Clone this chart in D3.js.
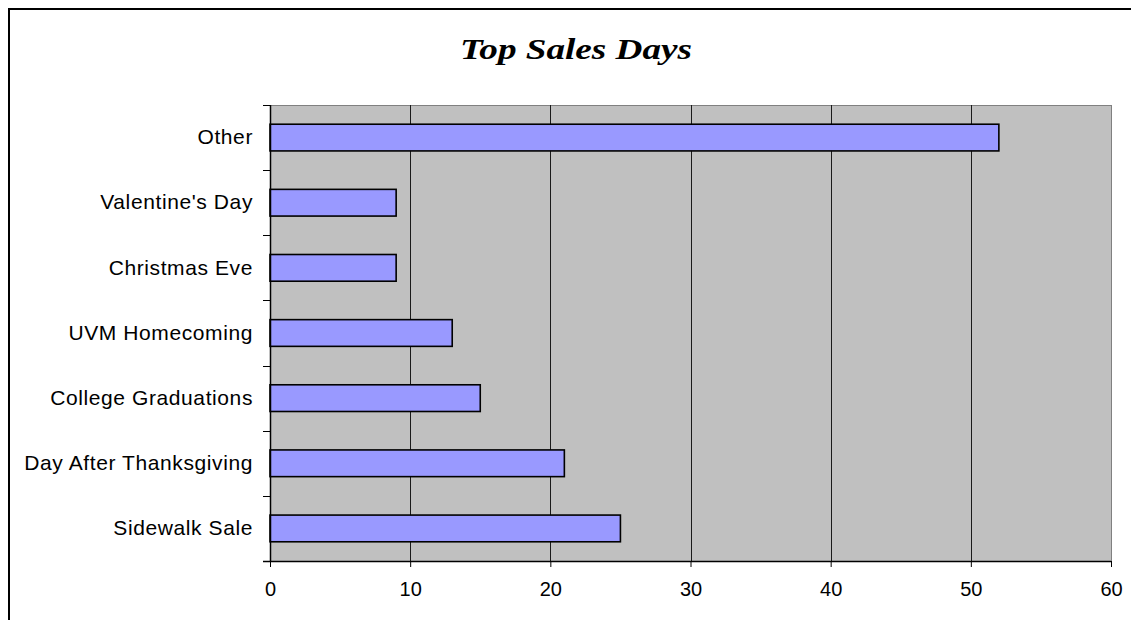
<!DOCTYPE html>
<html>
<head>
<meta charset="utf-8">
<script src="https://cdn.jsdelivr.net/npm/d3@7"></script>
<style>
  body { margin: 0; background: #fff; }
  svg { display: block; }
  .axis text { font-family: "Liberation Sans", Arial, sans-serif; font-size: 20px; fill: #000; }
  .y-axis text { font-size: 21px; letter-spacing: 0.6px; }
</style>
</head>
<body>
<div id="chart"></div>
<script>
// Categories listed top to bottom as in the chart
const categories = ["Other", "Valentine's Day", "Christmas Eve", "UVM Homecoming ",
    "College Graduations", "Day After Thanksgiving", "Sidewalk Sale"];
const values = [52, 9, 9, 13, 15, 21, 25];
const xTicks = [0, 10, 20, 30, 40, 50, 60];
const chartTitle = "Top Sales Days";

const data = categories.map((c, i) => ({ name: c, value: values[i] }));

// Canvas and plot area
const W = 1131, H = 620;
const plot = { left: 270, right: 1111, top: 105, bottom: 561 };

const svg = d3.select("#chart")
    .append("svg")
    .attr("width", W)
    .attr("height", H);

// Outer chart frame (runs off the right/bottom edges)
svg.append("rect")
    .attr("x", 9)
    .attr("y", 9)
    .attr("width", 1400)
    .attr("height", 900)
    .attr("fill", "#fff")
    .attr("stroke", "#000")
    .attr("stroke-width", 2);

// Title
svg.append("text")
    .attr("x", 576)
    .attr("y", 59)
    .attr("text-anchor", "middle")
    .attr("font-family", "'Liberation Serif', serif")
    .attr("font-style", "italic")
    .attr("font-weight", "bold")
    .attr("font-size", 29)
    .attr("textLength", 232)
    .attr("lengthAdjust", "spacingAndGlyphs")
    .text(chartTitle);

// Scales
const xScale = d3.scaleLinear()
    .domain([0, 60])
    .range([plot.left, plot.right]);

const yScale = d3.scaleBand()
    .domain(categories)
    .range([plot.top, plot.bottom])
    .paddingInner(0.59)
    .paddingOuter(0.295);

const step = yScale.step();

// Plot background
svg.append("rect")
    .attr("x", plot.left)
    .attr("y", plot.top)
    .attr("width", plot.right - plot.left)
    .attr("height", plot.bottom - plot.top)
    .attr("fill", "#c0c0c0")
    .attr("stroke", "#808080")
    .attr("stroke-width", 1)
    .attr("shape-rendering", "crispEdges");

// Vertical gridlines
svg.append("g")
    .selectAll("line")
    .data(xTicks.filter(d => d > 0 && d < 60))
    .enter()
    .append("line")
    .attr("x1", d => Math.round(xScale(d)) + 0.5)
    .attr("x2", d => Math.round(xScale(d)) + 0.5)
    .attr("y1", plot.top)
    .attr("y2", plot.bottom)
    .attr("stroke", "#1a1a1a")
    .attr("stroke-width", 1);

// Bars
svg.append("g")
    .selectAll("rect")
    .data(data)
    .enter()
    .append("rect")
    .attr("x", xScale(0))
    .attr("y", d => yScale(d.name))
    .attr("width", d => xScale(d.value) - xScale(0))
    .attr("height", yScale.bandwidth())
    .attr("fill", "#9999ff")
    .attr("stroke", "#000")
    .attr("stroke-width", 1.6);

// Bottom axis
const xAxis = svg.append("g")
    .attr("class", "axis")
    .attr("transform", `translate(0,${plot.bottom})`)
    .call(d3.axisBottom(xScale).tickValues(xTicks).tickSize(6).tickPadding(15).tickSizeOuter(0));
xAxis.select(".domain").remove();
xAxis.selectAll(".tick line").attr("stroke", "#000");
xAxis.append("line")
    .attr("x1", plot.left - 7)
    .attr("x2", plot.right)
    .attr("y1", 0.5)
    .attr("y2", 0.5)
    .attr("stroke", "#000")
    .attr("stroke-width", 1.5);

// Left axis: labels at band centres, ticks between categories
const yAxis = svg.append("g")
    .attr("class", "axis y-axis")
    .attr("transform", `translate(${plot.left},0)`)
    .call(d3.axisLeft(yScale).tickSize(0).tickPadding(17));
yAxis.select(".domain").remove();

const boundaries = categories.map(c => yScale(c) - step * yScale.paddingInner() / 2)
    .concat([plot.bottom]);
yAxis.selectAll(".bound")
    .data(boundaries)
    .enter()
    .append("line")
    .attr("class", "bound")
    .attr("x1", -7)
    .attr("x2", 0)
    .attr("y1", d => Math.round(d) + 0.5)
    .attr("y2", d => Math.round(d) + 0.5)
    .attr("stroke", "#000");
yAxis.append("line")
    .attr("x1", 0.5)
    .attr("x2", 0.5)
    .attr("y1", plot.top)
    .attr("y2", plot.bottom)
    .attr("stroke", "#000")
    .attr("stroke-width", 1.5);
</script>
</body>
</html>
